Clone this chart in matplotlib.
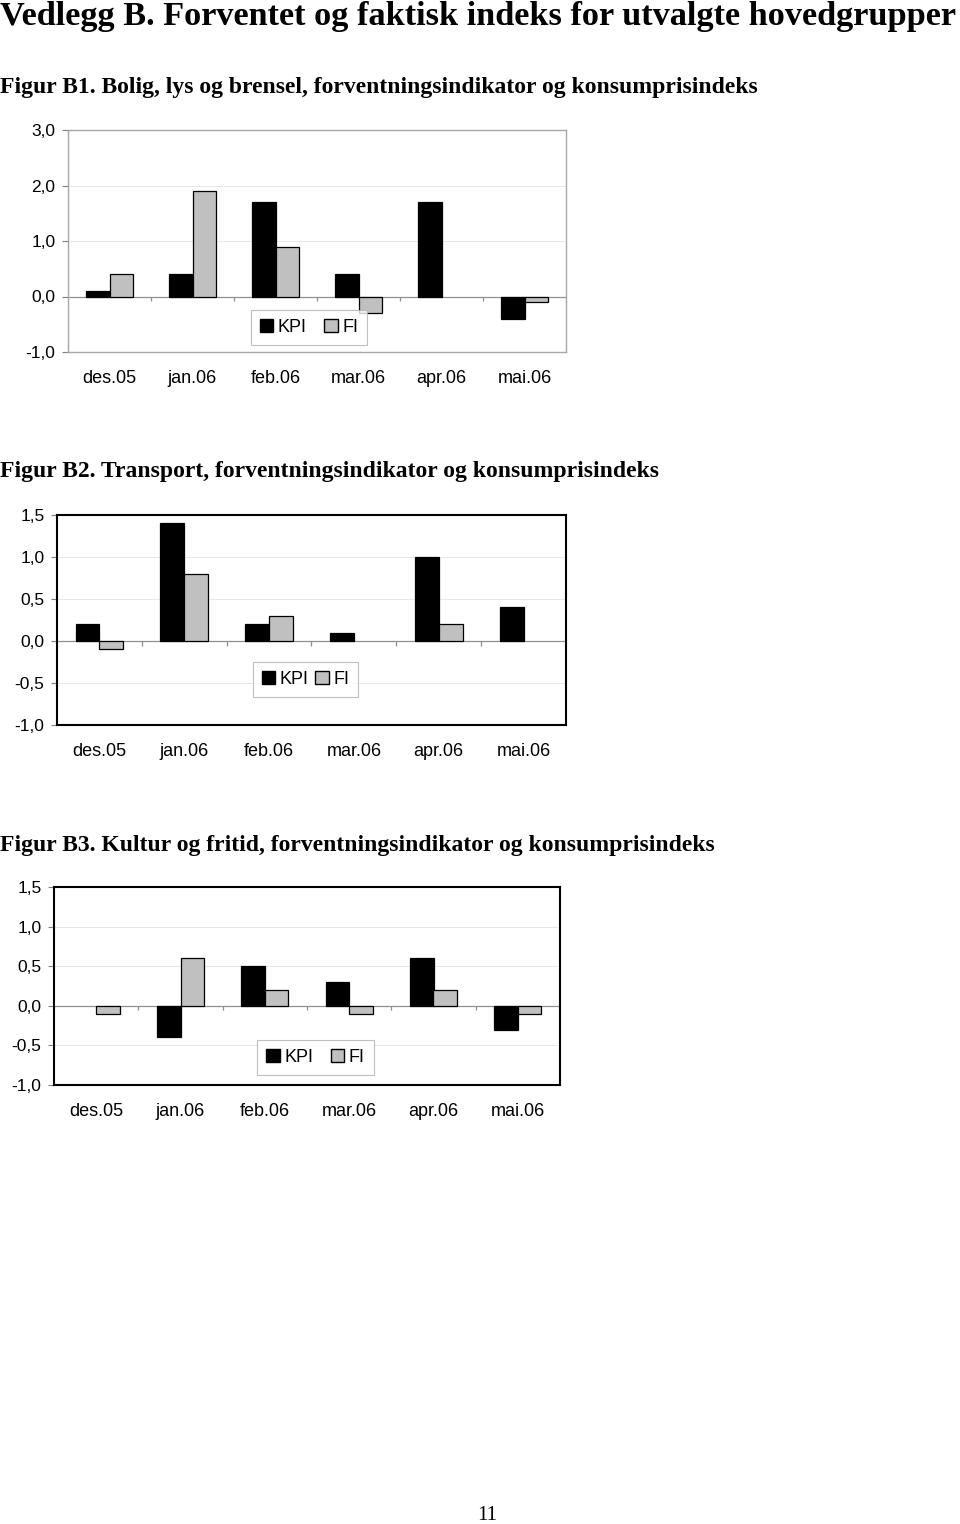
#!/usr/bin/env python3
# -*- coding: utf-8 -*-

import numpy as np
import matplotlib
matplotlib.use("Agg")
import matplotlib.pyplot as plt
from matplotlib.patches import Patch

# ------------------------------------------------------------
# Data
# ------------------------------------------------------------
months = ["des.05", "jan.06", "feb.06", "mar.06", "apr.06", "mai.06"]

b1_kpi = [0.1, 0.4, 1.7, 0.4, 1.7, -0.4]
b1_fi = [0.4, 1.9, 0.9, -0.3, 0.0, -0.1]
b1_ticks = [-1.0, 0.0, 1.0, 2.0, 3.0]

b2_kpi = [0.2, 1.4, 0.2, 0.1, 1.0, 0.4]
b2_fi = [-0.1, 0.8, 0.3, 0.0, 0.2, 0.0]
b2_ticks = [-1.0, -0.5, 0.0, 0.5, 1.0, 1.5]

b3_kpi = [0.0, -0.4, 0.5, 0.3, 0.6, -0.3]
b3_fi = [-0.1, 0.6, 0.2, -0.1, 0.2, -0.1]
b3_ticks = [-1.0, -0.5, 0.0, 0.5, 1.0, 1.5]

page_title = "Vedlegg B. Forventet og faktisk indeks for utvalgte hovedgrupper"
fig_titles = [
    "Figur B1. Bolig, lys og brensel, forventningsindikator og konsumprisindeks",
    "Figur B2. Transport, forventningsindikator og konsumprisindeks",
    "Figur B3. Kultur og fritid, forventningsindikator og konsumprisindeks",
]

SERIF = ["Liberation Serif", "DejaVu Serif"]
SANS = ["Liberation Sans", "DejaVu Sans"]
GREY = "#c0c0c0"

W, H = 960, 1524


def fmt(v):
    return f"{v:.1f}".replace(".", ",")


def px_rect(left, right, top, bottom):
    return [left / W, 1 - bottom / H, (right - left) / W, (bottom - top) / H]


def bar_panel(ax, kpi, fi, ticks, spine_color, spine_lw, leg_xy, colsp):
    x = np.arange(len(months))
    bw = 0.28
    # zero values leave no bar in the original
    kpi = np.where(np.asarray(kpi) == 0, np.nan, kpi)
    fi = np.where(np.asarray(fi) == 0, np.nan, fi)
    ax.bar(x - bw / 2, kpi, bw, color="black", edgecolor="black", lw=0.9, zorder=3)
    ax.bar(x + bw / 2, fi, bw, color=GREY, edgecolor="black", lw=0.9, zorder=3)

    lo, hi = ticks[0], ticks[-1]
    ax.set_ylim(lo, hi)
    ax.set_xlim(-0.5, len(months) - 0.5)
    ax.set_yticks(ticks, [fmt(t) for t in ticks])
    ax.set_xticks(x, months)
    ax.grid(axis="y", color="#e8e8e8", lw=0.7, zorder=0)

    ax.axhline(0, color="#909090", lw=0.9, zorder=2)
    d = 0.022 * (hi - lo)
    ax.vlines(x[:-1] + 0.5, -d, 0, color="#909090", lw=0.9, zorder=2)

    for s in ax.spines.values():
        s.set_color(spine_color)
        s.set_linewidth(spine_lw)

    ax.tick_params(axis="x", length=0, pad=13, labelsize=13)
    ax.tick_params(axis="y", length=4, width=0.8, color="#808080", pad=5, labelsize=12.5)
    for lab in ax.get_xticklabels() + ax.get_yticklabels():
        lab.set_family(SANS)

    handles = [
        Patch(facecolor="black", edgecolor="black", label="KPI"),
        Patch(facecolor=GREY, edgecolor="black", label="FI"),
    ]
    leg = ax.legend(handles=handles, loc="center", bbox_to_anchor=leg_xy, ncol=2,
                    frameon=True, fancybox=False, handlelength=0.75, handleheight=0.75,
                    handletextpad=0.25, columnspacing=colsp, borderpad=0.5,
                    prop={"family": SANS, "size": 13})
    leg.get_frame().set_edgecolor("#b0b0b0")
    leg.get_frame().set_linewidth(0.8)
    leg.set_zorder(5)


fig = plt.figure(figsize=(W / 100, H / 100), dpi=100)

fig.text(0.0, 1 - 17 / H, page_title, family=SERIF, weight="bold", fontsize=24.7,
         ha="left", va="center")

title_y = [88, 471, 845]
title_sz = [17.0, 17.0, 17.0]
for t, y, sz in zip(fig_titles, title_y, title_sz):
    fig.text(0.0, 1 - y / H, t, family=SERIF, weight="bold", fontsize=sz,
             ha="left", va="center")

ax1 = fig.add_axes(px_rect(68, 566, 130, 352))
bar_panel(ax1, b1_kpi, b1_fi, b1_ticks, "#a8a8a8", 1.0, (0.484, 0.11), 0.95)

ax2 = fig.add_axes(px_rect(57, 566, 515, 725))
bar_panel(ax2, b2_kpi, b2_fi, b2_ticks, "black", 1.5, (0.488, 0.217), 0.35)

ax3 = fig.add_axes(px_rect(54, 560, 887, 1085))
bar_panel(ax3, b3_kpi, b3_fi, b3_ticks, "black", 1.5, (0.517, 0.141), 0.95)

fig.text(487 / W, 1 - 1515 / H, "11", family=SERIF, fontsize=15, ha="center", va="center")

fig.savefig("out.png", dpi=100)
plt.close(fig)
